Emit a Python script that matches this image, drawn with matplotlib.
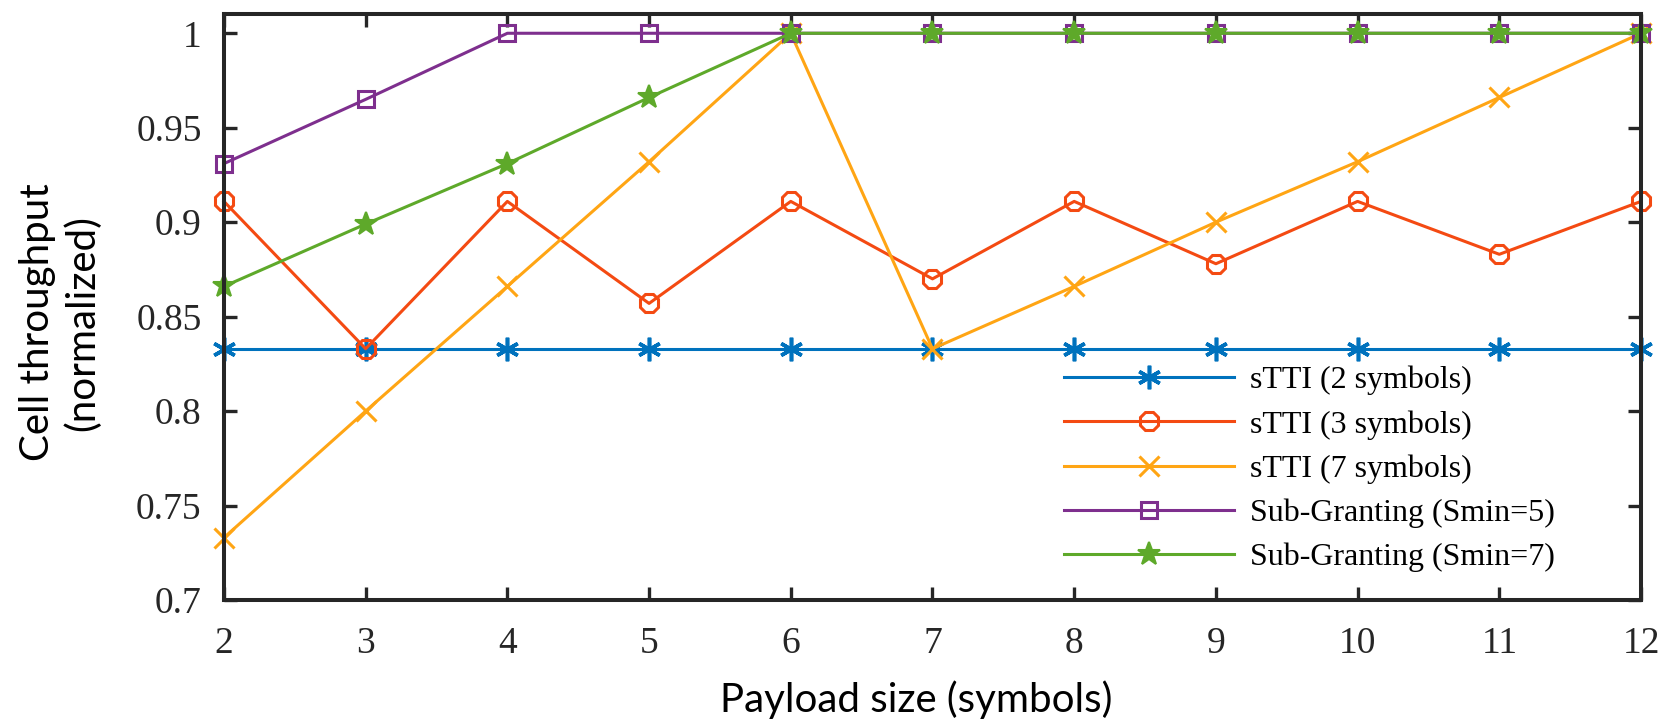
import matplotlib.pyplot as plt

# payload size (symbols)
payload = [2, 3, 4, 5, 6, 7, 8, 9, 10, 11, 12]

# normalized cell throughput
stti_2 = [0.833, 0.833, 0.833, 0.833, 0.833, 0.833, 0.833, 0.833, 0.833, 0.833, 0.833]
stti_3 = [0.911, 0.833, 0.911, 0.857, 0.911, 0.870, 0.911, 0.878, 0.911, 0.883, 0.911]
stti_7 = [0.733, 0.800, 0.866, 0.932, 1.000, 0.833, 0.866, 0.900, 0.932, 0.966, 1.000]
subgrant_5 = [0.931, 0.965, 1.000, 1.000, 1.000, 1.000, 1.000, 1.000, 1.000, 1.000, 1.000]
subgrant_7 = [0.866, 0.899, 0.931, 0.966, 1.000, 1.000, 1.000, 1.000, 1.000, 1.000, 1.000]

labels = ["sTTI (2 symbols)", "sTTI (3 symbols)", "sTTI (7 symbols)",
          "Sub-Granting (Smin=5)", "Sub-Granting (Smin=7)"]
yticks = [0.7, 0.75, 0.8, 0.85, 0.9, 0.95, 1.0]
ytick_labels = ["0.7", "0.75", "0.8", "0.85", "0.9", "0.95", "1"]

dark = "#262626"
serif = ["Liberation Serif", "DejaVu Serif"]
sans = ["Lato", "DejaVu Sans"]

fig = plt.figure(figsize=(16.65, 7.25), dpi=100)
ax = fig.add_axes([0.1345, 0.1724, 0.8511, 0.8083])

lw = 2.2
ax.plot(payload, stti_2, color="#0072BD", lw=lw, marker=(6, 2, 0), ms=17, mew=2.6,
        label=labels[0], clip_on=False)
ax.plot(payload, stti_3, color="#F44A12", lw=lw, marker="8", ms=14, mew=2.2, mfc="none",
        label=labels[1], clip_on=False)
ax.plot(payload, stti_7, color="#FFA514", lw=lw, marker="x", ms=15, mew=2.2,
        label=labels[2], clip_on=False)
ax.plot(payload, subgrant_5, color="#7E2F8E", lw=lw, marker="s", ms=11.5, mew=2.2, mfc="none",
        label=labels[3], clip_on=False)
ax.plot(payload, subgrant_7, color="#5EA92A", lw=lw, marker="*", ms=17, mew=1.5,
        label=labels[4], clip_on=False)

ax.set_xlim(2, 12)
ax.set_ylim(0.7, 1.0102)
ax.set_xticks(payload)
ax.set_yticks(yticks)
ax.set_yticklabels(ytick_labels)

for sp in ax.spines.values():
    sp.set_linewidth(2.9)
    sp.set_color(dark)
ax.tick_params(direction="in", length=9.5, width=2.4, color=dark,
               top=True, right=True, labelcolor=dark, labelsize=27)
ax.tick_params(axis="x", pad=19)
ax.tick_params(axis="y", pad=16)
for t in ax.get_xticklabels() + ax.get_yticklabels():
    t.set_family(serif)

# axis titles were set in a sans font, placed like text boxes
fig.text(0.55, 0.018, "Payload size (symbols)", family=sans, fontsize=29,
         ha="center", va="baseline", color="black")
fig.text(0.036, 0.555, "Cell throughput\n(normalized)", family=sans, fontsize=29,
         ha="center", va="center", rotation=90, linespacing=1.25, color="black")

leg = ax.legend(loc="center left", bbox_to_anchor=(0.593, 0.2235), frameon=False,
                prop={"family": serif, "size": 23}, handlelength=5.3,
                handletextpad=0.5, labelspacing=0.46, borderpad=0, borderaxespad=0,
                numpoints=1)

fig.savefig("out.png", dpi=100)
